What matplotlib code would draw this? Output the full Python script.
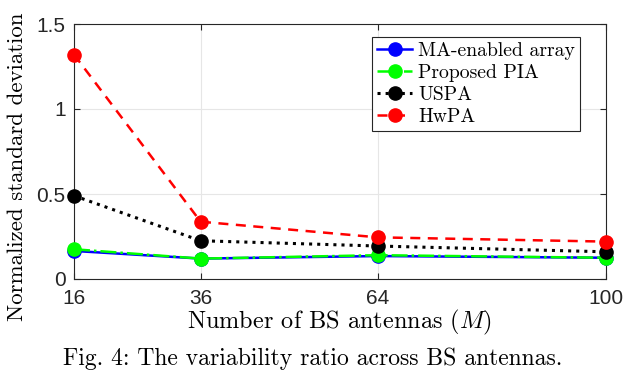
import matplotlib
matplotlib.use("Agg")
import matplotlib.pyplot as plt

M = [16, 36, 64, 100]
ma_array = [0.165, 0.12, 0.135, 0.125]
pia = [0.175, 0.12, 0.14, 0.125]
uspa = [0.49, 0.225, 0.194, 0.16]
hwpa = [1.32, 0.337, 0.245, 0.22]
labels = ["MA-enabled array", "Proposed PIA", "USPA", "HwPA"]
xticks = [16, 36, 64, 100]
yticks = [0, 0.5, 1, 1.5]
yticklabels = ["0", "0.5", "1", "1.5"]

plt.rcParams['mathtext.fontset'] = 'cm'
plt.rcParams['axes.unicode_minus'] = False

fig = plt.figure(figsize=(6.26, 3.72), dpi=100)
ax = fig.add_axes([74/626, 1 - 279/372, (606-74)/626, (279-24)/372])

ms = 9.5
lw = 1.8
ax.plot(M, ma_array, '-', color='#0000ff', marker='o', ms=ms, lw=lw, label=labels[0], zorder=3, clip_on=False)
ax.plot(M, pia, '-.', color='#00ff00', marker='o', ms=ms, lw=lw, label=labels[1], zorder=4, clip_on=False)
ax.plot(M, uspa, ':', color='black', marker='o', ms=ms, lw=2.2, label=labels[2], zorder=5, clip_on=False)
ax.plot(M, hwpa, '--', color='#ff0000', marker='o', ms=ms, lw=lw, label=labels[3], zorder=6, dashes=(4, 3), clip_on=False)

ax.set_xlim(16, 100)
ax.set_ylim(0, 1.5)
ax.set_xticks(xticks)
ax.set_xticklabels([str(v) for v in xticks], fontfamily='Liberation Sans', fontsize=15)
ax.set_yticks(yticks)
ax.set_yticklabels(yticklabels, fontfamily='Liberation Sans', fontsize=15)
ax.tick_params(direction='in', top=True, right=True, length=4, width=0.8, colors='#262626')
ax.tick_params(axis='x', pad=7)
ax.tick_params(axis='y', pad=6)
ax.grid(True, color='#e6e6e6', lw=0.8)
for s in ax.spines.values():
    s.set_color('#262626')
    s.set_linewidth(0.8)
ax.set_axisbelow(True)

ax.set_xlabel(r"Number of BS antennas ($M$)", fontfamily='cmr10', fontsize=17.5, labelpad=0)
ax.set_ylabel("Normalized standard deviation", fontfamily='cmr10', fontsize=16.5)
ax.yaxis.set_label_coords(-47/532, 0.44)

leg = ax.legend(loc='upper right', bbox_to_anchor=(580/626, 1 - 37/372), bbox_transform=fig.transFigure,
                prop={'family': 'cmr10', 'size': 14.2}, fancybox=False, edgecolor='#262626',
                framealpha=1, borderpad=0.25, labelspacing=0.2, handlelength=1.8, handletextpad=0.3,
                borderaxespad=0)
leg.get_frame().set_linewidth(0.8)

fig.text(0.5, 1 - 347/372, "Fig. 4: The variability ratio across BS antennas.", fontfamily='cmr10',
         fontsize=17, ha='center', va='top')

fig.savefig("out.png", dpi=100)
